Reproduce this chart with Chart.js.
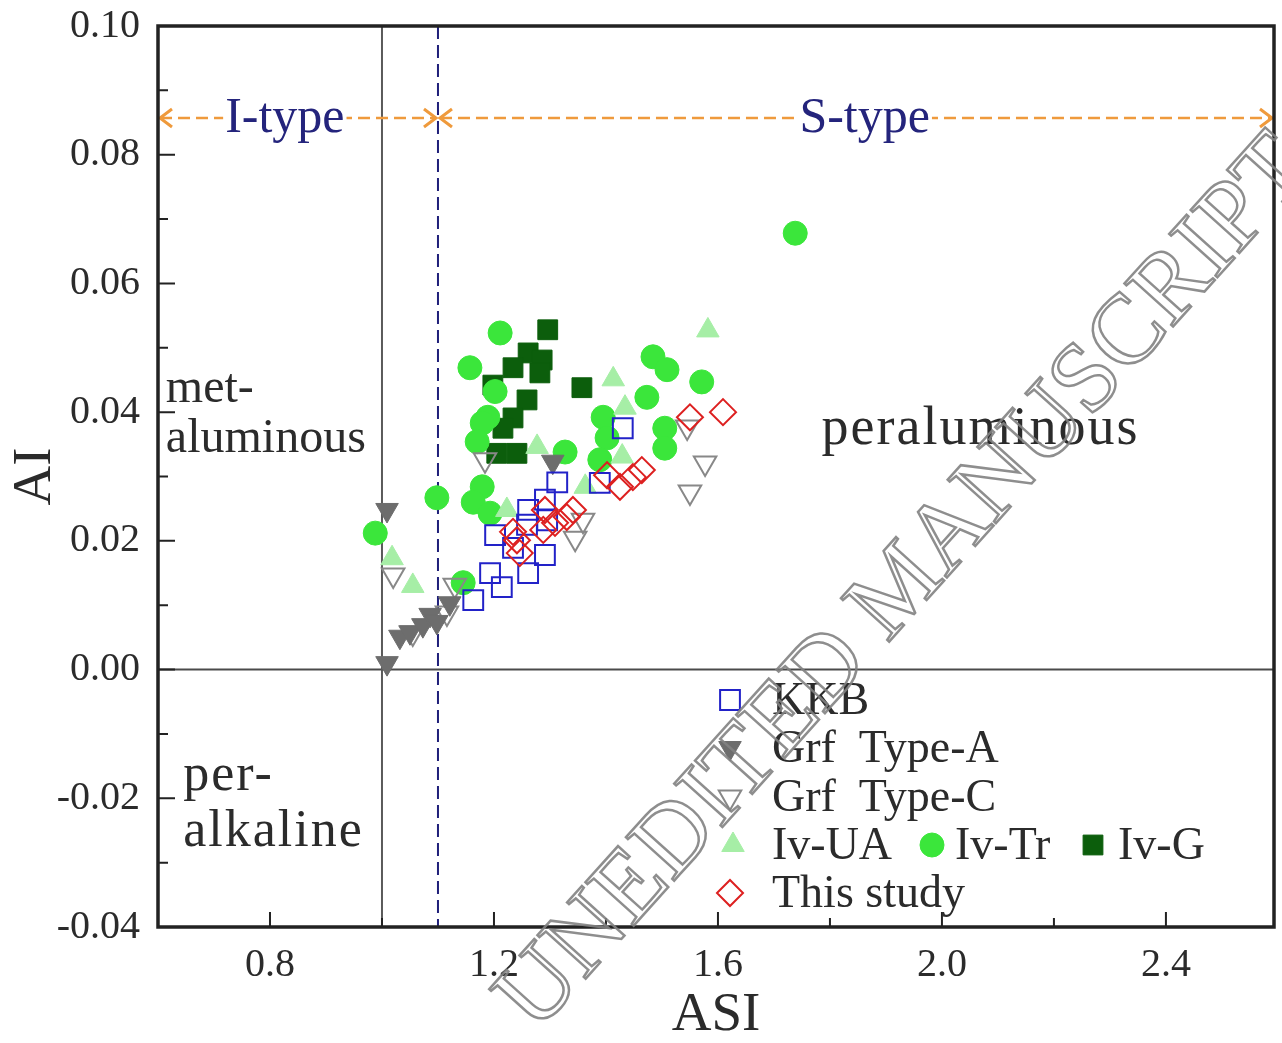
<!DOCTYPE html>
<html>
<head>
<meta charset="utf-8">
<title>ASI vs AI</title>
<script src="https://cdn.jsdelivr.net/npm/chart.js@4.4.1/dist/chart.umd.min.js"></script>
<style>
  html, body { margin: 0; padding: 0; background: #fff; }
  #wrap { width: 1282px; height: 1043px; }
</style>
</head>
<body>
<div id="wrap"><canvas id="c" width="1282" height="1043"></canvas></div>
<script>
/* ── Data (ASI, AI) ── */
const studyASI = [1.609, 1.550, 1.464, 1.448, 1.425, 1.402, 1.341, 1.330, 1.309, 1.288, 1.241, 1.246, 1.234, 1.291];
const studyAI  = [0.0400, 0.0392, 0.0310, 0.0299, 0.0284, 0.0302, 0.0248, 0.0237, 0.0228, 0.0217, 0.0201, 0.0181, 0.0214, 0.0248];

const kkbASI = [1.430, 1.313, 1.389, 1.291, 1.261, 1.295, 1.259, 1.202, 1.234, 1.291, 1.261, 1.193, 1.214, 1.163];
const kkbAI  = [0.0375, 0.0291, 0.0290, 0.0264, 0.0248, 0.0232, 0.0225, 0.0209, 0.0189, 0.0178, 0.0150, 0.0150, 0.0128, 0.0108];

const grfAASI = [1.009, 1.009, 1.032, 1.050, 1.073, 1.086, 1.098, 1.121, 1.305];
const grfAAI  = [0.0248, 0.0010, 0.0051, 0.0058, 0.0069, 0.0085, 0.0074, 0.0103, 0.0323];

const grfCASI = [1.020, 1.184, 1.130, 1.116, 1.055, 1.359, 1.345, 1.545, 1.577, 1.550];
const grfCAI  = [0.0147, 0.0326, 0.0131, 0.0088, 0.0057, 0.0232, 0.0204, 0.0377, 0.0321, 0.0276];

const ivUAASI = [1.582, 1.413, 1.434, 1.429, 1.277, 1.363, 1.223, 1.018, 1.055];
const ivUAAI  = [0.0527, 0.0451, 0.0407, 0.0331, 0.0346, 0.0284, 0.0248, 0.0173, 0.0130];

const ivTrASI = [1.738, 1.211, 1.157, 1.202, 1.189, 1.179, 1.170, 1.327, 1.395, 1.402, 1.389, 1.179,
                 1.163, 1.193, 1.098, 0.988, 1.145, 1.484, 1.509, 1.571, 1.473, 1.505, 1.505];
const ivTrAI  = [0.0678, 0.0523, 0.0469, 0.0432, 0.0392, 0.0383, 0.0354, 0.0338, 0.0392, 0.0360, 0.0326, 0.0284,
                 0.0260, 0.0243, 0.0267, 0.0212, 0.0135, 0.0486, 0.0466, 0.0447, 0.0423, 0.0375, 0.0344];

const ivGASI = [1.296, 1.261, 1.286, 1.234, 1.282, 1.198, 1.357, 1.259, 1.234, 1.216, 1.205, 1.241];
const ivGAI  = [0.0528, 0.0492, 0.0481, 0.0469, 0.0461, 0.0442, 0.0438, 0.0419, 0.0391, 0.0375, 0.0336, 0.0336];

/* ── Axes ── */
const xTicks      = [0.8, 1.2, 1.6, 2.0, 2.4];
const xTickLabels = ["0.8", "1.2", "1.6", "2.0", "2.4"];
const xMinor      = [1.0, 1.4, 1.8, 2.2];
const yTicks      = [-0.04, -0.02, 0.00, 0.02, 0.04, 0.06, 0.08, 0.10];
const yTickLabels = ["-0.04", "-0.02", "0.00", "0.02", "0.04", "0.06", "0.08", "0.10"];
const yMinor      = [-0.03, -0.01, 0.01, 0.03, 0.05, 0.07, 0.09];

/* ── Boundaries & labels (data units) ── */
const metaBoundary = 1.0;   // ASI = 1
const typeBoundary = 1.1;   // I / S type
const typeArrowY   = 0.0857;

const SERIF  = "'Liberation Serif', 'Times New Roman', serif";
const TEXT   = "#2b2b2b";
const NAVY   = "#24247c";
const ORANGE = "#ef9a3c";

const pts = (xs, ys) => xs.map((v, i) => ({ x: v, y: ys[i] }));

const SERIES = [
  { label: "This study", data: pts(studyASI, studyAI), pointStyle: "rectRot", pointRadius: 13, pointRotation: 0,
    backgroundColor: "rgba(0,0,0,0)", borderColor: "#dd2020", pointBorderWidth: 2 },
  { label: "KKB", data: pts(kkbASI, kkbAI), pointStyle: "rect", pointRadius: 14, pointRotation: 0,
    backgroundColor: "rgba(0,0,0,0)", borderColor: "#2222c8", pointBorderWidth: 2 },
  { label: "Grf  Type-A", data: pts(grfAASI, grfAAI), pointStyle: "triangle", pointRadius: 13, pointRotation: 180,
    backgroundColor: "#6d6d6d", borderColor: "#6d6d6d", pointBorderWidth: 1 },
  { label: "Grf  Type-C", data: pts(grfCASI, grfCAI), pointStyle: "triangle", pointRadius: 13, pointRotation: 180,
    backgroundColor: "rgba(0,0,0,0)", borderColor: "#888888", pointBorderWidth: 2 },
  { label: "Iv-UA", data: pts(ivUAASI, ivUAAI), pointStyle: "triangle", pointRadius: 13, pointRotation: 0,
    backgroundColor: "#a6eea6", borderColor: "#a6eea6", pointBorderWidth: 1 },
  { label: "Iv-Tr", data: pts(ivTrASI, ivTrAI), pointStyle: "circle", pointRadius: 12, pointRotation: 0,
    backgroundColor: "#3be63b", borderColor: "#3be63b", pointBorderWidth: 1 },
  { label: "Iv-G", data: pts(ivGASI, ivGAI), pointStyle: "rect", pointRadius: 14, pointRotation: 0,
    backgroundColor: "#0c5e0c", borderColor: "#0c5e0c", pointBorderWidth: 1 },
];

/* ── Helpers ── */
function marker(ctx, ds, px, py) {
  ctx.save();
  ctx.fillStyle   = ds.backgroundColor;
  ctx.strokeStyle = ds.borderColor;
  ctx.lineWidth   = ds.pointBorderWidth;
  Chart.helpers.drawPoint(ctx, {
    pointStyle: ds.pointStyle, radius: ds.pointRadius,
    rotation: ds.pointRotation, borderWidth: ds.pointBorderWidth,
  }, px, py);
  ctx.restore();
}

function dashedArrow(ctx, x1, x2, yy) {
  ctx.save();
  ctx.strokeStyle = ORANGE;
  ctx.lineWidth = 2.5;
  ctx.setLineDash([12, 6]);
  ctx.beginPath(); ctx.moveTo(x1 + 2, yy); ctx.lineTo(x2 - 2, yy); ctx.stroke();
  ctx.setLineDash([]);
  ctx.lineWidth = 3;
  ctx.beginPath();
  ctx.moveTo(x1 + 14, yy - 9); ctx.lineTo(x1 + 2, yy); ctx.lineTo(x1 + 14, yy + 9);
  ctx.moveTo(x2 - 14, yy - 9); ctx.lineTo(x2 - 2, yy); ctx.lineTo(x2 - 14, yy + 9);
  ctx.stroke();
  ctx.restore();
}

function gapText(ctx, txt, cx, cy) {
  ctx.save();
  ctx.font = `50px ${SERIF}`;
  const w = ctx.measureText(txt).width;
  ctx.fillStyle = "#fff";
  ctx.fillRect(cx - w / 2 - 2, cy - 6, w + 4, 12);
  ctx.fillStyle = NAVY;
  ctx.textAlign = "center";
  ctx.textBaseline = "alphabetic";
  ctx.fillText(txt, cx, cy + 14);
  ctx.restore();
}

function label(ctx, txt, px, py, size, spacing) {
  ctx.font = `${size}px ${SERIF}`;
  ctx.letterSpacing = `${spacing}px`;
  ctx.fillText(txt, px, py);
  ctx.letterSpacing = "0px";
}

function clearPad(s) {
  s.paddingLeft = 0; s.paddingRight = 0; s.paddingTop = 0; s.paddingBottom = 0;
}

/* ── Background annotations ── */
const backPlugin = {
  id: "backAnno",
  beforeDatasetsDraw(chart) {
    const { ctx, chartArea: a } = chart;
    const x = chart.scales.x, y = chart.scales.y;
    ctx.save();

    // AI = 0
    ctx.strokeStyle = "#4a4a4a"; ctx.lineWidth = 2;
    const y0 = y.getPixelForValue(0);
    ctx.beginPath(); ctx.moveTo(a.left, y0); ctx.lineTo(a.right, y0); ctx.stroke();

    // ASI = 1
    ctx.strokeStyle = "#5a5a5a"; ctx.lineWidth = 2;
    const x1 = x.getPixelForValue(metaBoundary);
    ctx.beginPath(); ctx.moveTo(x1, a.top); ctx.lineTo(x1, a.bottom); ctx.stroke();

    // ASI = 1.1
    ctx.strokeStyle = "#20207a"; ctx.lineWidth = 2;
    ctx.setLineDash([13, 6]);
    const xb = x.getPixelForValue(typeBoundary);
    ctx.beginPath(); ctx.moveTo(xb, a.top); ctx.lineTo(xb, a.bottom); ctx.stroke();
    ctx.setLineDash([]);

    // I-type / S-type arrows
    const ya = y.getPixelForValue(typeArrowY);
    dashedArrow(ctx, a.left, xb, ya);
    dashedArrow(ctx, xb, a.right, ya);
    gapText(ctx, "I-type", x.getPixelForValue(0.8265), ya);
    gapText(ctx, "S-type", x.getPixelForValue(1.862), ya);

    // Field names
    ctx.fillStyle = TEXT;
    ctx.textAlign = "left";
    ctx.textBaseline = "alphabetic";
    label(ctx, "met-",         x.getPixelForValue(0.614), y.getPixelForValue(0.0415), 48, 0);
    label(ctx, "aluminous",    x.getPixelForValue(0.614), y.getPixelForValue(0.0338), 48, 0);
    label(ctx, "per-",         x.getPixelForValue(0.645), y.getPixelForValue(-0.0187), 52, 2);
    label(ctx, "alkaline",     x.getPixelForValue(0.645), y.getPixelForValue(-0.0274), 52, 2);
    label(ctx, "peraluminous", x.getPixelForValue(1.785), y.getPixelForValue(0.0351), 54, 2);
    ctx.restore();
  },
};

/* ── Frame, ticks, legend, watermark ── */
const frontPlugin = {
  id: "frontAnno",
  afterDatasetsDraw(chart) {
    const { ctx, chartArea: a } = chart;
    const x = chart.scales.x, y = chart.scales.y;
    ctx.save();

    // inward ticks
    ctx.strokeStyle = "#222"; ctx.lineWidth = 2;
    ctx.beginPath();
    xTicks.forEach(v => { const p = x.getPixelForValue(v); ctx.moveTo(p, a.bottom); ctx.lineTo(p, a.bottom - 15); });
    xMinor.forEach(v => { const p = x.getPixelForValue(v); ctx.moveTo(p, a.bottom); ctx.lineTo(p, a.bottom - 9); });
    yTicks.forEach(v => { const p = y.getPixelForValue(v); ctx.moveTo(a.left, p); ctx.lineTo(a.left + 17, p); });
    yMinor.forEach(v => { const p = y.getPixelForValue(v); ctx.moveTo(a.left, p); ctx.lineTo(a.left + 10, p); });
    ctx.stroke();

    // frame
    ctx.strokeStyle = "#222"; ctx.lineWidth = 3.5;
    ctx.strokeRect(a.left, a.top, a.right - a.left, a.bottom - a.top);

    // legend
    const rows = [
      [[1, 730, 772]],
      [[2, 730, 772]],
      [[3, 730, 772]],
      [[4, 733, 772], [5, 932, 955], [6, 1093, 1118]],
      [[0, 730, 772]],
    ];
    const rowY = [700, 748, 797, 845, 893];
    ctx.font = `46px ${SERIF}`;
    ctx.textBaseline = "middle";
    ctx.textAlign = "left";
    rows.forEach((row, r) => {
      row.forEach(([idx, mx, tx]) => {
        const ds = chart.data.datasets[idx];
        marker(ctx, ds, mx, rowY[r]);
        ctx.fillStyle = TEXT;
        ctx.fillText(ds.label, tx, rowY[r] + 2);
      });
    });
    ctx.restore();
  },
  afterDraw(chart) {
    const { ctx } = chart;
    ctx.save();
    ctx.translate(536, 1034);
    ctx.rotate(-48 * Math.PI / 180);
    ctx.font = `99px ${SERIF}`;
    ctx.textBaseline = "alphabetic";
    ctx.strokeStyle = "rgba(130,130,130,0.9)";
    ctx.lineWidth = 2.5;
    ctx.strokeText("UNEDITED MANUSCRIPT", 0, 0);
    ctx.restore();
  },
};

/* ── Chart ── */
new Chart(document.getElementById("c"), {
  type: "scatter",
  data: { datasets: SERIES },
  plugins: [backPlugin, frontPlugin],
  options: {
    responsive: false,
    animation: false,
    events: [],
    layout: { autoPadding: false, padding: { top: 26, right: 8, left: 0, bottom: 0 } },
    plugins: { legend: { display: false }, tooltip: { enabled: false } },
    scales: {
      x: {
        type: "linear", min: 0.6, max: 2.593,
        grid: { display: false, drawTicks: false }, border: { display: false },
        afterBuildTicks: s => { s.ticks = xTicks.map(v => ({ value: v })); },
        afterFit: s => { s.height = 116; clearPad(s); },
        ticks: {
          autoSkip: false, maxRotation: 0, padding: 14, color: TEXT,
          font: { family: SERIF, size: 40 },
          callback: (v, i) => xTickLabels[i],
        },
        title: { display: true, text: "ASI", color: TEXT, font: { family: SERIF, size: 55, lineHeight: 1 },
                 padding: { top: 0, bottom: 0 } },
      },
      y: {
        type: "linear", min: -0.04, max: 0.10,
        grid: { display: false, drawTicks: false }, border: { display: false },
        afterBuildTicks: s => { s.ticks = yTicks.map(v => ({ value: v })); },
        afterFit: s => { s.width = 158; clearPad(s); },
        ticks: {
          autoSkip: false, padding: 18, color: TEXT,
          font: { family: SERIF, size: 40 },
          callback: (v, i) => yTickLabels[i],
        },
        title: { display: true, text: "AI", color: TEXT, font: { family: SERIF, size: 55, lineHeight: 1 },
                 padding: { top: 8, bottom: 0 } },
      },
    },
  },
});
</script>
</body>
</html>
